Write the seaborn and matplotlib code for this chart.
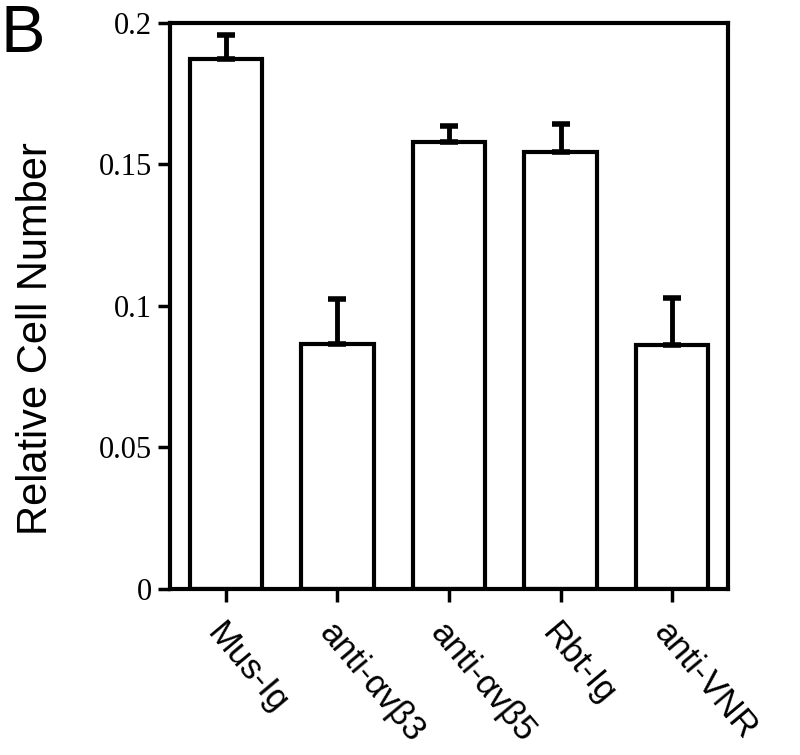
import numpy as np
import pandas as pd
import matplotlib
matplotlib.use('Agg')
import matplotlib.pyplot as plt
import seaborn as sns

# Data
groups = ['Mus-Ig', 'anti-\u03b1v\u03b23', 'anti-\u03b1v\u03b25', 'Rbt-Ig', 'anti-VNR']
means = [0.1873, 0.0866, 0.1580, 0.1544, 0.0862]
errors = [0.0085, 0.0160, 0.0056, 0.0100, 0.0166]
yticks = [0, 0.05, 0.1, 0.15, 0.2]
ytick_labels = ['0', '0.05', '0.1', '0.15', '0.2']

df = pd.DataFrame({'group': groups, 'mean': means})

sns.set_style('ticks')
plt.rcParams['font.family'] = ['Liberation Sans', 'DejaVu Sans']
plt.rcParams['text.color'] = 'black'
plt.rcParams['axes.labelcolor'] = 'black'
plt.rcParams['xtick.color'] = 'black'
plt.rcParams['ytick.color'] = 'black'

fig = plt.figure(figsize=(8, 7.55), dpi=100)
ax = fig.add_axes([0.2125, 0.22, 0.6975, 0.7495])

sns.barplot(data=df, x='group', y='mean', order=groups, color='white',
            edgecolor='black', linewidth=3, width=0.65, errorbar=None,
            saturation=1, ax=ax, zorder=2)

# upper error bars only
ax.errorbar(np.arange(len(groups)), means,
            yerr=[np.zeros(len(groups)), errors],
            fmt='none', ecolor='black', elinewidth=3.5,
            capsize=6.5, capthick=4, zorder=3)

ax.set_xlim(-0.5, 4.5)
ax.set_ylim(0, 0.2)
ax.set_yticks(yticks)
ax.set_yticklabels(ytick_labels, fontfamily='Liberation Serif', fontsize=22)

ax.set_xticks(range(len(groups)))
ax.set_xticklabels(groups, rotation=-50, ha='left', va='top',
                   rotation_mode='anchor', fontsize=25)

for side in ['left', 'right', 'top', 'bottom']:
    ax.spines[side].set_visible(True)
    ax.spines[side].set_linewidth(3)
    ax.spines[side].set_color('black')

ax.tick_params(axis='y', direction='out', length=9, width=2.5, pad=4)
ax.tick_params(axis='x', direction='out', length=9, width=2.5, pad=11)

ax.set_xlabel('')
ax.set_ylabel('Relative Cell Number', fontsize=30)
ax.yaxis.set_label_coords(-0.205, 0.443)

fig.text(0.0, 0.995, 'B', fontsize=48, va='top', ha='left', color='black')

fig.savefig('out.png', dpi=100, facecolor='white')
